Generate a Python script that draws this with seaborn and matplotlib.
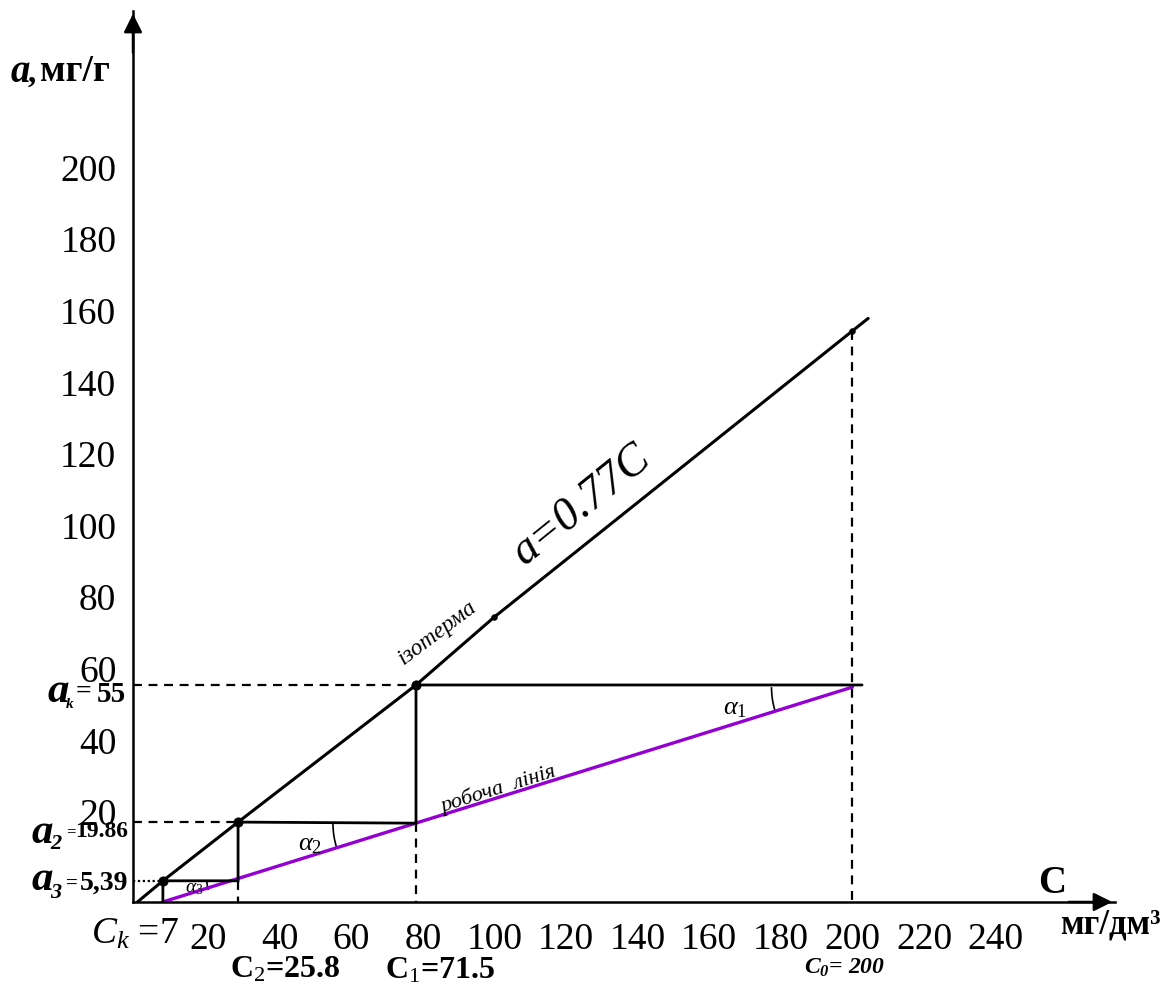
import matplotlib
matplotlib.use('Agg')
import matplotlib.pyplot as plt
from matplotlib.patches import Arc
import seaborn as sns

# values (axis units)
x_ticks = [20, 40, 60, 80, 100, 120, 140, 160, 180, 200, 220, 240]
y_ticks = [20, 40, 60, 80, 100, 120, 140, 160, 180, 200]

# isotherm a = 0.77C, as drawn
iso_c = [0.3, 7.4, 28.4, 78.1, 100, 200, 204.4]
iso_a = [-5.4, 0.5, 16.9, 55.2, 74.2, 154.1, 157.6]

# step points on the isotherm: C_k, C_2, C_1 / a_3, a_2, a_k
step_c = [7.4, 28.4, 78.1]
step_a = [0.5, 16.9, 55.2]
mark_c = [100, 200]
mark_a = [74.2, 154.1]

# working line
work_c = [7.4, 200]
work_a = [-5.4, 54.6]

# staircase between isotherm and working line
stair_c = [202.7, 78.1, 78.1, 28.4, 28.4, 7.4, 7.4]
stair_a = [55.2, 55.2, 16.6, 16.9, 0.5, 0.5, -5.4]

W, H = 1172, 987
X0, X1 = -0.95, 273.35
Y0, Y1 = -5.42, 243.46

sns.set_style('white')
plt.rcParams['font.family'] = ['Liberation Serif', 'DejaVu Serif']
plt.rcParams['mathtext.fontset'] = 'custom'
plt.rcParams['mathtext.rm'] = 'Liberation Serif'
plt.rcParams['mathtext.it'] = 'Liberation Serif:italic'
plt.rcParams['mathtext.bf'] = 'Liberation Serif:bold'
plt.rcParams['mathtext.bfit'] = 'Liberation Serif:bold:italic'
plt.rcParams['text.color'] = 'black'
plt.rcParams['xtick.color'] = 'black'
plt.rcParams['ytick.color'] = 'black'
plt.rcParams['axes.labelcolor'] = 'black'


def fx(x):
    return x / W


def fy(y):
    return 1 - y / H


fig = plt.figure(figsize=(W / 100, H / 100), dpi=100)
ax = fig.add_axes([fx(133), fy(903), (1115 - 133) / W, (903 - 12) / H])
ax.set_xlim(X0, X1)
ax.set_ylim(Y0, Y1)

for s in ['top', 'right']:
    ax.spines[s].set_visible(False)
for s in ['left', 'bottom']:
    ax.spines[s].set_linewidth(1.8)
    ax.spines[s].set_color('black')

ax.set_xticks(x_ticks)
ax.set_yticks(y_ticks)
ax.tick_params(axis='x', direction='out', length=8, width=1.8, pad=6, labelsize=27,
               colors='black')
ax.tick_params(axis='y', direction='out', length=11, width=1.8, pad=1, labelsize=27,
               colors='black')

# axis arrows
ax.annotate('', xy=(0, 1), xytext=(0, 0.95), xycoords='axes fraction',
            arrowprops=dict(arrowstyle='-|>', color='black', lw=1.8, mutation_scale=28))
ax.annotate('', xy=(1, 0), xytext=(0.95, 0), xycoords='axes fraction',
            arrowprops=dict(arrowstyle='-|>', color='black', lw=1.8, mutation_scale=28))

# isotherm and working line
sns.lineplot(x=iso_c, y=iso_a, sort=False, color='black', lw=2.2, ax=ax)
sns.lineplot(x=work_c, y=work_a, sort=False, color='#9400D3', lw=2.4, ax=ax)

# staircase
ax.plot(stair_c, stair_a, color='black', lw=2.0, solid_joinstyle='miter')

# dashed guides
dash = (0, (4, 3))
ax.plot([step_c[2], step_c[2]], [16.6, Y0], color='black', lw=1.6, ls=dash, clip_on=False)
ax.plot([step_c[1], step_c[1]], [0.5, Y0], color='black', lw=1.6, ls=dash, clip_on=False)
ax.plot([mark_c[1], mark_c[1]], [mark_a[1], Y0], color='black', lw=1.6, ls=dash, clip_on=False)
ax.plot([X0, step_c[2]], [step_a[2], step_a[2]], color='black', lw=1.6, ls=dash)
ax.plot([X0, step_c[1]], [step_a[1], step_a[1]], color='black', lw=1.6, ls=dash)
ax.plot([X0, step_c[0]], [step_a[0], step_a[0]], color='black', lw=1.6, ls=(0, (1, 1.2)))

# points
sns.scatterplot(x=step_c, y=step_a, s=45, color='black', edgecolor='black', ax=ax, zorder=5)
sns.scatterplot(x=mark_c, y=mark_a, s=18, color='black', edgecolor='black', ax=ax, zorder=5)

# angle arcs
ax.add_patch(Arc((200, 54.6), 45.2, 45.2, theta1=180, theta2=197.3, color='black', lw=1.2))
ax.add_patch(Arc((78.1, 16.6), 46.4, 46.4, theta1=180, theta2=197.3, color='black', lw=1.2))
ax.add_patch(Arc((28.4, 0.5), 17.4, 17.4, theta1=180, theta2=197.3, color='black', lw=1.2))

# line labels
fig.text(fx(582), fy(505), 'a=0.77C', fontsize=33, style='italic', rotation=39,
         ha='center', va='center', rotation_mode='anchor')
fig.text(fx(437), fy(633), 'ізотерма', fontsize=17, style='italic', rotation=37,
         ha='center', va='center', rotation_mode='anchor')
fig.text(fx(498), fy(789), 'робоча  лінія', fontsize=16, style='italic', rotation=17.5,
         ha='center', va='center', rotation_mode='anchor')

fig.text(fx(735), fy(709), r'$\alpha_1$', fontsize=19, ha='center', va='center')
fig.text(fx(310), fy(845), r'$\alpha_2$', fontsize=19, ha='center', va='center')
fig.text(fx(194), fy(889), r'$\alpha_3$', fontsize=14, ha='center', va='center')

# axis titles
fig.text(fx(11), fy(82), 'a', fontsize=28, weight='bold', style='italic', va='baseline')
fig.text(fx(28), fy(82), ',', fontsize=24, weight='bold', va='baseline')
fig.text(fx(40), fy(81), 'мг/г', fontsize=27, weight='bold', va='baseline')
fig.text(fx(1052), fy(893), 'C', fontsize=28, weight='bold', ha='center', va='baseline')
fig.text(fx(1110), fy(933), 'мг/дм³', fontsize=25, weight='bold', ha='center', va='baseline')

# left value labels
fig.text(fx(47), fy(702), 'a', fontsize=31, weight='bold', style='italic', va='baseline')
fig.text(fx(66), fy(708), 'k', fontsize=11, weight='bold', style='italic', va='baseline')
fig.text(fx(76), fy(699), '=', fontsize=20, weight='bold', va='baseline')
fig.text(fx(97), fy(702), '55', fontsize=21, weight='bold', va='baseline')

fig.text(fx(32), fy(843), 'a', fontsize=31, weight='bold', style='italic', va='baseline')
fig.text(fx(50), fy(849), '2', fontsize=16, weight='bold', style='italic', va='baseline')
fig.text(fx(66), fy(836), '=', fontsize=12, weight='bold', va='baseline')
fig.text(fx(75), fy(837), '19.86', fontsize=17, weight='bold', va='baseline')

fig.text(fx(32), fy(890), 'a', fontsize=31, weight='bold', style='italic', va='baseline')
fig.text(fx(50), fy(898), '3', fontsize=16, weight='bold', style='italic', va='baseline')
fig.text(fx(66), fy(889), '=', fontsize=15, weight='bold', va='baseline')
fig.text(fx(80), fy(890), '5,39', fontsize=20, weight='bold', va='baseline')

# bottom value labels
fig.text(fx(135), fy(934), r'$C_k$ =7', fontsize=27, ha='center', va='center')
fig.text(fx(285), fy(970), r'$\mathbf{C}_{2}$=25.8', fontsize=23, weight='bold', ha='center', va='center')
fig.text(fx(440), fy(971), r'$\mathbf{C}_{\mathit{1}}$=71.5', fontsize=23, weight='bold', ha='center', va='center')
fig.text(fx(845), fy(968), r'$\mathbfit{C_0}$= 200', fontsize=17, weight='bold', style='italic',
         ha='center', va='center')

fig.savefig('out.png', dpi=100)
